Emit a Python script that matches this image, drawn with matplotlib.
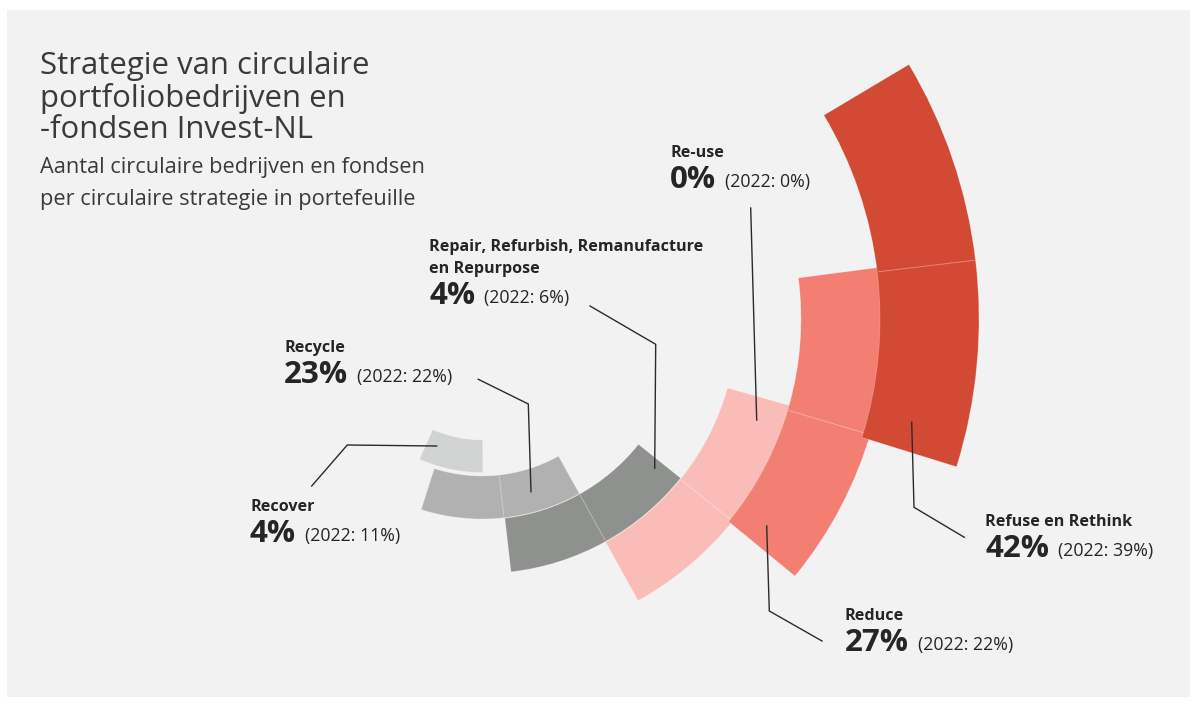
import matplotlib
matplotlib.use("Agg")
import matplotlib.pyplot as plt
from matplotlib.patches import Wedge, Rectangle
import numpy as np

# ---------------- data ----------------
categories = ["Refuse en Rethink", "Reduce", "Re-use",
              "Repair, Refurbish, Remanufacture\nen Repurpose", "Recycle", "Recover"]
share_2023 = [42, 27, 0, 4, 23, 4]
share_2022 = [39, 22, 0, 6, 22, 11]

title_lines = ["Strategie van circulaire", "portfoliobedrijven en", "-fondsen Invest-NL"]
subtitle_lines = ["Aantal circulaire bedrijven en fondsen",
                  "per circulaire strategie in portefeuille"]

# ---------------- styles / layout ----------------
colors = ["#D24A33", "#F27F72", "#FABCB7", "#8F918E", "#B1B1B1", "#D1D3D2"]

# decorative spiral layout (pixel space, angles clockwise from east)
CENTER = (482, 319)
theta_start = [-30.8, -7.4, 15.7, 38.7, 60.85, 89.7]
theta_end = [17.3, 39.4, 61.0, 83.45, 107.7, 114.0]
r_inner = [398, 319, 255, 200.5, 157, 121]
r_outer = [497, 405, 322, 254.5, 200, 153.5]
seam_angle = [-6.8, 16.6, 38.9, 60.9, 83.7, None]

label_anchor = [(985, 526), (845, 620), (670, 156.7),
                (429.3, 250.7), (284.3, 351.7), (250, 511)]
leaders = [
    [(911.7, 422.3), (914, 507.3), (964.3, 537.3)],
    [(766.7, 526), (769.3, 611), (822, 641)],
    [(750.7, 208), (756.7, 420)],
    [(590, 306), (655.7, 344.3), (654.7, 468.3)],
    [(478.3, 379.3), (528.3, 404), (531, 491.7)],
    [(311.7, 486), (347.3, 445), (436.7, 446)],
]

FONT = ["Open Sans", "DejaVu Sans"]
TXT = "#232622"

W, H = 1198, 706
fig = plt.figure(figsize=(W / 100, H / 100), dpi=100)
fig.patch.set_facecolor("white")
ax = fig.add_axes([0, 0, 1, 1])
ax.set_xlim(0, W)
ax.set_ylim(H, 0)
ax.axis("off")

ax.add_patch(Rectangle((7, 10), 1183, 687, facecolor="#F2F2F2", edgecolor="none", zorder=0))

# wedges drawn inner -> outer so outer ones sit on top
cx, cy = CENTER
for i in reversed(range(len(categories))):
    w = Wedge(CENTER, r_outer[i], theta_start[i], theta_end[i],
              width=r_outer[i] - r_inner[i], facecolor=colors[i],
              edgecolor=(1, 1, 1, 0.25), linewidth=0.6, zorder=2 + (5 - i))
    ax.add_patch(w)
    if seam_angle[i] is not None:
        a = np.deg2rad(seam_angle[i])
        rr = np.array([r_inner[i] + 1, r_outer[i] - 1])
        ax.plot(cx + rr * np.cos(a), cy + rr * np.sin(a), color=(1, 1, 1, 0.35),
                lw=0.7, zorder=2 + (5 - i) + 0.5, solid_capstyle="butt")

# leader lines
for pts in leaders:
    xs, ys = zip(*pts)
    ax.plot(xs, ys, color="#2a2a2a", lw=1.0, zorder=20, solid_joinstyle="miter")

# title & subtitle
title_base = [74, 106.5, 138]
for s, y in zip(title_lines, title_base):
    ax.text(40, y, s, fontsize=22.4, family=FONT, color="#3a3a3a", va="baseline", ha="left")
sub_base = [172.7, 204.5]
for s, y in zip(subtitle_lines, sub_base):
    ax.text(40, y, s, fontsize=15.7, family=FONT, color="#3a3a3a", va="baseline", ha="left")

# labels
fig.canvas.draw()
renderer = fig.canvas.get_renderer()
inv = ax.transData.inverted()
for i, name in enumerate(categories):
    x, y = label_anchor[i]
    lines = name.split("\n")
    for k, ln in enumerate(lines):
        ax.text(x, y + k * 22, ln, fontsize=11.6, weight="bold", family=FONT,
                color=TXT, va="baseline", ha="left")
    yb = y + (len(lines) - 1) * 22 + 31
    big = ax.text(x, yb, f"{share_2023[i]}%", fontsize=22.5, weight="bold", family=FONT,
                  color=TXT, va="baseline", ha="left")
    bb = big.get_window_extent(renderer=renderer)
    x_end = inv.transform((bb.x1, bb.y0))[0]
    ax.text(x_end + 9, yb - 1, f"(2022: {share_2022[i]}%)", fontsize=12.8, family=FONT,
            color=TXT, va="baseline", ha="left")

fig.savefig("out.png", dpi=100, facecolor="white")
